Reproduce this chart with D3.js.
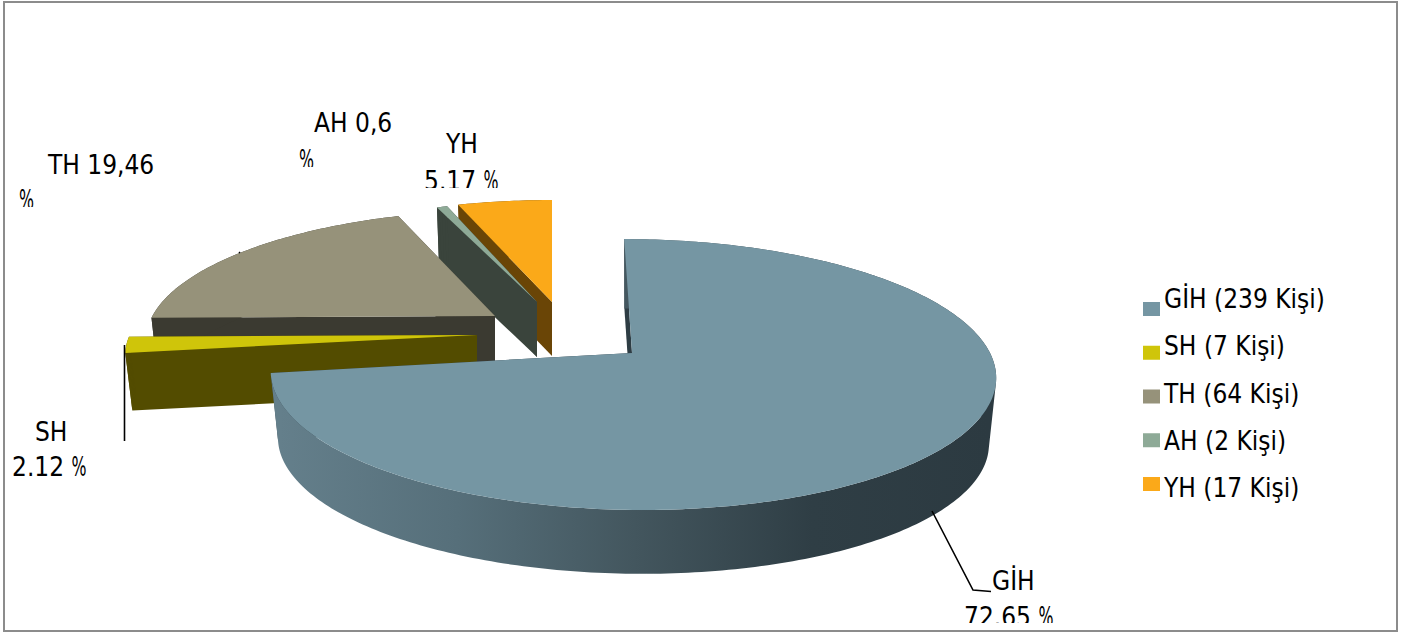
<!DOCTYPE html>
<html>
<head>
<meta charset="utf-8">
<script src="https://cdn.jsdelivr.net/npm/d3@7"></script>
<style>
  html, body { margin: 0; padding: 0; background: #fff; }
  svg { display: block; }
  text { font-family: "DejaVu Sans Condensed", "DejaVu Sans", sans-serif; fill: #000; }
</style>
</head>
<body>
<div id="wrapper"></div>
<script>
// values
const names = ["GİH", "SH", "TH", "AH", "YH"]
const percents = [72.65, 2.12, 19.46, 0.6, 5.17]
const people = [239, 7, 64, 2, 17]
const labelLines = [["GİH", "72.65 %"], ["SH", "2.12 %"], ["TH 19,46", "%"], ["AH 0,6", "%"], ["YH", "5.17 %"]]

// colours, same order as names
const topColors = ["#7596a3", "#cfc50a", "#96927a", "#8eaa97", "#fba919"]
const wallColors = ["#2e3d44", "#534c00", "#3b3a31", "#3a443c", "#6a4506"]
const legendColors = ["#7596a3", "#cfc50a", "#96927a", "#8eaa97", "#fba919"]

const dimensions = { width: 1411, height: 635 }

// pie plane: radius, flattening and perspective
const radius = 358
const radiusY = 132
const perspective = 0.159
const baseShrink = 0.98

// every slice is pulled out of the pie a bit and gets smaller further back
const slicePlacement = [
  { x: 632, y: 353, scaleX: 1, scaleY: 1, skew: 9, depth: 67 },
  { x: 477, y: 335, scaleX: 0.97, scaleY: 0.9, skew: 0, depth: 58 },
  { x: 495, y: 316, scaleX: 0.957, scaleY: 0.93, skew: -11, depth: 62 },
  { x: 537, y: 302, scaleX: 0.905, scaleY: 0.88, skew: 0, depth: 55 },
  { x: 552, y: 302, scaleX: 0.945, scaleY: 0.895, skew: 0, depth: 54 },
]

// label text positions, [x, baseline] per line, and the y where the text box cuts it off
const labelPlacement = [
  { lines: [[992, 590], [964, 626]], clipY: 623 },
  { lines: [[35, 441], [12, 476]], clipY: 490 },
  { lines: [[48, 174], [19, 209]], clipY: 207 },
  { lines: [[314, 132], [299, 169]], clipY: 167 },
  { lines: [[446, 153], [424, 190]], clipY: 188 },
]

const wrapper = d3.select("#wrapper")
  .append("svg")
    .attr("width", dimensions.width)
    .attr("height", dimensions.height)

// chart frame
wrapper.append("rect")
  .attr("x", 4)
  .attr("y", 2)
  .attr("width", 1393)
  .attr("height", 629)
  .attr("fill", "#fff")
  .attr("stroke", "#8c8c8c")
  .attr("stroke-width", 2)

// shading along the outside of the big slice
const defs = wrapper.append("defs")
const sideGradient = defs.append("linearGradient")
  .attr("id", "sideGradient")
  .attr("gradientUnits", "userSpaceOnUse")
  .attr("x1", 280).attr("x2", 990).attr("y1", 0).attr("y2", 0)
sideGradient.selectAll("stop")
  .data([[0, "#647f8b"], [0.25, "#566f7a"], [0.5, "#43565e"], [0.75, "#2f3e45"], [1, "#2c3a41"]])
  .join("stop")
    .attr("offset", d => d[0])
    .attr("stop-color", d => d[1])

// pie angles come from the data, clockwise from the top
const pie = d3.pie().sort(null).value(d => d)
const arcs = pie(percents)

// turns an angle on the pie into a spot on the screen
function project(angle, place, onBase) {
  const u = Math.sin(angle)
  const v = -Math.cos(angle)
  const w = 1 / (1 - perspective * v)
  const px = (radius * place.scaleX * u + place.skew * v) * w
  const py = radiusY * place.scaleY * v * w
  const shrink = onBase ? baseShrink : 1
  return [place.x + px * shrink, place.y + py * shrink + (onBase ? place.depth : 0)]
}

function rimPoints(arc, place, onBase) {
  const steps = Math.max(4, Math.ceil((arc.endAngle - arc.startAngle) * 60))
  return d3.range(steps + 1).map(i =>
    project(arc.startAngle + (arc.endAngle - arc.startAngle) * i / steps, place, onBase))
}

const polygon = d3.line().curve(d3.curveLinearClosed)

// back slices first so the front ones sit over them
const drawOrder = [4, 3, 2, 1, 0]
const bound = wrapper.append("g")

drawOrder.forEach(i => {
  const arc = arcs[i]
  const place = slicePlacement[i]
  const slice = bound.append("g").attr("class", "slice")
  const top = rimPoints(arc, place, false)
  const base = rimPoints(arc, place, true)
  const apex = [place.x, place.y]
  const apexBase = [place.x, place.y + place.depth]

  // the two cut faces
  slice.append("path")
    .attr("d", polygon([apex, top[top.length - 1], base[base.length - 1], apexBase]))
    .attr("fill", wallColors[i])
  slice.append("path")
    .attr("d", polygon([apex, top[0], base[0], apexBase]))
    .attr("fill", wallColors[i])

  // outer curved face: all quads in one path, wound the same way so they merge without seams
  const sideQuads = d3.range(top.length - 1).map(k => {
    const quad = [top[k], top[k + 1], base[k + 1], base[k]]
    return polygon(d3.polygonArea(quad) < 0 ? quad.reverse() : quad)
  })
  slice.append("path")
    .attr("d", sideQuads.join(""))
    .attr("fill", i === 0 ? "url(#sideGradient)" : wallColors[i])

  // top face
  slice.append("path")
    .attr("d", polygon([apex].concat(top)))
    .attr("fill", topColors[i])
})

// leader lines
const leaders = [
  [[124.5, 345], [124.5, 441]],
  [[932, 511], [973, 590], [991, 591.5]],
  [[239, 252], [240, 253]],
]
wrapper.selectAll(".leader")
  .data(leaders)
  .join("path")
    .attr("class", "leader")
    .attr("d", d3.line())
    .attr("fill", "none")
    .attr("stroke", "#000")
    .attr("stroke-width", 1.6)

// data labels, some are cut off by their box like in the original
labelLines.forEach((lines, i) => {
  const place = labelPlacement[i]
  defs.append("clipPath")
    .attr("id", `labelClip${i}`)
    .append("rect")
      .attr("x", 0).attr("y", 0)
      .attr("width", dimensions.width)
      .attr("height", place.clipY)
  const label = wrapper.append("g").attr("clip-path", `url(#labelClip${i})`)
  lines.forEach((line, j) => {
    const [x, y] = place.lines[j]
    const parts = line.split("%")
    const text = label.append("text")
      .attr("x", x)
      .attr("y", y)
      .attr("font-size", 26)
      .style("white-space", "pre")
      .text(parts[0])
    // the percent sign is narrower than the digits in the original, squeeze it sideways
    if (parts.length > 1) {
      const sign = label.append("text")
        .attr("font-size", 26)
        .text("%")
      const squeeze = 15 / sign.node().getComputedTextLength()
      sign.attr("transform", `translate(${x + text.node().getComputedTextLength()}, ${y}) scale(${squeeze}, 1)`)
    }
  })
})

// legend, swatches and texts step a little differently
const legendY = d3.scalePoint().domain(names).range([302, 477])
const legendTextY = d3.scalePoint().domain(names).range([308, 497])
const legend = wrapper.selectAll(".legendItem")
  .data(names)
  .join("g")
    .attr("class", "legendItem")
legend.append("rect")
  .attr("x", 1143)
  .attr("y", d => legendY(d))
  .attr("width", 17)
  .attr("height", 14)
  .attr("fill", (d, i) => legendColors[i])
legend.append("text")
  .attr("x", 1164)
  .attr("y", d => legendTextY(d))
  .attr("font-size", 26)
  .text((d, i) => `${d} (${people[i]} Kişi)`)
</script>
</body>
</html>
